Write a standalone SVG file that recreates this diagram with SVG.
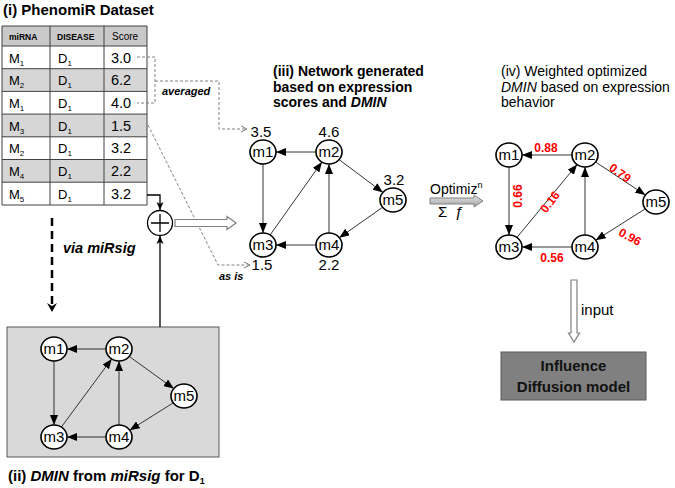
<svg xmlns="http://www.w3.org/2000/svg" width="675" height="488" viewBox="0 0 675 488">
<defs>
<style>
text{font-family:"Liberation Sans",Arial,sans-serif;fill:#000}
.t{font-size:14px;font-weight:bold}
.tr{font-size:14px}
.hd{font-size:8.5px;font-weight:bold}
.ct{font-size:13px}
.sc{font-size:14.5px}
.sub{font-size:8px}
.grid{stroke:#404040;stroke-width:1;fill:none}
.node ellipse{fill:#fff;stroke:#000;stroke-width:1.6}
.node text{font-size:15px;text-anchor:middle}
.edge{stroke:#333;stroke-width:1;fill:none;marker-end:url(#ah)}
.val{font-size:11.5px;text-anchor:middle}
.w{font-size:12px;font-weight:bold;fill:#f00;text-anchor:middle}
.dash{stroke:#808080;stroke-width:1;stroke-dasharray:3 2;fill:none;marker-end:url(#ahg)}
.hollow{fill:#fff;stroke:#808080;stroke-width:1.2}
.lbl{font-size:11px;font-style:italic;font-weight:bold}
</style>
<marker id="ah" markerUnits="userSpaceOnUse" markerWidth="10" markerHeight="8" refX="10" refY="4" orient="auto"><path d="M0,0 L10,4 L0,8 z" fill="#000"/></marker>
<marker id="ahs" markerUnits="userSpaceOnUse" markerWidth="8" markerHeight="8" refX="8" refY="4" orient="auto"><path d="M0,0.5 L8,4 L0,7.5 L2,4 z" fill="#000"/></marker>
<marker id="ahg" markerUnits="userSpaceOnUse" markerWidth="8" markerHeight="8" refX="7" refY="4" orient="auto"><path d="M1,1 L7,4 L1,7" fill="none" stroke="#808080" stroke-width="1"/></marker>
<linearGradient id="gopt" x1="0" y1="0" x2="0" y2="1"><stop offset="0" stop-color="#e8e8e8"/><stop offset="1" stop-color="#a0a0a0"/></linearGradient>
</defs>
<rect width="675" height="488" fill="#fff"/>

<!-- (i) table -->
<g id="table">
<text x="3" y="15" style="font-size:15px;font-weight:bold">(i) PhenomiR Dataset</text>
<rect x="2" y="26" width="145" height="20" fill="#c9c9c9"/>
<rect x="2" y="68.7" width="145" height="22.7" fill="#d6d6d6"/>
<rect x="2" y="114.1" width="145" height="22.7" fill="#d6d6d6"/>
<rect x="2" y="159.5" width="145" height="22.7" fill="#d6d6d6"/>
<path class="grid" d="M2,26 H147 V205 H2 Z M2,46 H147 M2,68.7 H147 M2,91.4 H147 M2,114.1 H147 M2,136.8 H147 M2,159.5 H147 M2,182.2 H147 M50,26 V205 M104,26 V205"/>
<text class="hd" x="9" y="40">miRNA</text>
<text class="hd" x="57" y="40">DISEASE</text>
<text x="112" y="40" style="font-size:10px">Score</text>
<g class="ct">
<text x="9" y="62.5">M<tspan class="sub" dy="3">1</tspan></text>
<text x="58" y="62.5">D<tspan class="sub" dy="3">1</tspan></text>
<text x="9" y="85.2">M<tspan class="sub" dy="3">2</tspan></text>
<text x="58" y="85.2">D<tspan class="sub" dy="3">1</tspan></text>
<text x="9" y="107.9">M<tspan class="sub" dy="3">1</tspan></text>
<text x="58" y="107.9">D<tspan class="sub" dy="3">1</tspan></text>
<text x="9" y="130.6">M<tspan class="sub" dy="3">3</tspan></text>
<text x="58" y="130.6">D<tspan class="sub" dy="3">1</tspan></text>
<text x="9" y="153.3">M<tspan class="sub" dy="3">2</tspan></text>
<text x="58" y="153.3">D<tspan class="sub" dy="3">1</tspan></text>
<text x="9" y="176">M<tspan class="sub" dy="3">4</tspan></text>
<text x="58" y="176">D<tspan class="sub" dy="3">1</tspan></text>
<text x="9" y="198.7">M<tspan class="sub" dy="3">5</tspan></text>
<text x="58" y="198.7">D<tspan class="sub" dy="3">1</tspan></text>
</g>
<g class="sc">
<text x="111" y="62.5">3.0</text>
<text x="111" y="85.2">6.2</text>
<text x="111" y="107.9">4.0</text>
<text x="111" y="130.6">1.5</text>
<text x="111" y="153.3">3.2</text>
<text x="111" y="176">2.2</text>
<text x="111" y="198.7">3.2</text>
</g>
</g>

<!-- titles -->
<text class="t" x="273" y="76">(iii) Network generated</text>
<text class="t" x="273" y="92">based on expression</text>
<text class="t" x="273" y="107">scores and <tspan font-style="italic">DMIN</tspan></text>
<text class="tr" x="501" y="76">(iv) Weighted optimized</text>
<text class="tr" x="501" y="92"><tspan font-style="italic">DMIN</tspan> based on expression</text>
<text class="tr" x="501" y="107">behavior</text>
<text x="8" y="481" style="font-size:15px;font-weight:bold">(ii) <tspan font-style="italic">DMIN</tspan> from <tspan font-style="italic">miRsig</tspan>  for D<tspan style="font-size:9px" dy="3">1</tspan></text>

<!-- (ii) box -->
<g id="dmin-box">
<rect x="7" y="327" width="212" height="130" fill="#d9d9d9" stroke="#595959" stroke-width="1"/>
</g>

<!-- connectors -->
<g id="connectors">
<path class="dash" style="marker-end:none" d="M137,57 H155 V103 H137"/>
<path class="dash" d="M155,81 H219 V129 H247"/>
<text class="lbl" x="162" y="95">averaged</text>
<path class="dash" d="M148,125 L218,265 H250"/>
<text class="lbl" x="219" y="280">as is</text>
<path d="M147,195 H160 V210" fill="none" stroke="#000" stroke-width="1.3" marker-end="url(#ahs)"/>
<path d="M160,327 V236" fill="none" stroke="#000" stroke-width="1.3" marker-end="url(#ahs)"/>
<line x1="52" y1="218" x2="52" y2="306" stroke="#000" stroke-width="2.5" stroke-dasharray="8 5"/>
<path d="M47,303 L52,312 L57,303 L52,306 z" fill="#000"/>
<text x="63" y="253" style="font-size:14.5px;font-style:italic;font-weight:bold">via  miRsig</text>
<polygon class="hollow" points="175,219.5 227,219.5 227,216.5 236,223 227,229.5 227,226.5 175,226.5"/>
<polygon points="430,198 474,198 474,195 483,201 474,207 474,204 430,204" fill="url(#gopt)" stroke="#808080" stroke-width="1"/>
<text x="430" y="194" style="font-size:14px">Optimiz<tspan style="font-size:9px" dy="-6">n</tspan></text>
<text x="438" y="217" style="font-size:15px">Σ <tspan dx="3" font-style="italic">ƒ</tspan></text>
<polygon class="hollow" points="571,280 577,280 577,333 579.5,333 574,342 568.5,333 571,333"/>
<text x="581" y="315" style="font-size:15px">input</text>

<!-- network ii edges -->
<line class="edge" x1="106" y1="349" x2="67" y2="349"/>
<line class="edge" x1="54" y1="361" x2="54" y2="425"/>
<line class="edge" x1="61.3" y1="427.1" x2="111.7" y2="358.9"/>
<line class="edge" x1="119" y1="425" x2="119" y2="361"/>
<line class="edge" x1="106" y1="437" x2="67" y2="437"/>
<line class="edge" x1="129.2" y1="356.4" x2="173.8" y2="388.6"/>
<line class="edge" x1="173.3" y1="402.8" x2="129.7" y2="430.2"/>

<!-- network iii edges -->
<line class="edge" x1="316" y1="152" x2="276" y2="152"/>
<line class="edge" x1="263" y1="164" x2="263" y2="233"/>
<line class="edge" x1="270.1" y1="235" x2="321.9" y2="162"/>
<line class="edge" x1="329" y1="233" x2="329" y2="164"/>
<line class="edge" x1="316" y1="245" x2="276" y2="245"/>
<line class="edge" x1="339.1" y1="159.6" x2="382.9" y2="192.4"/>
<line class="edge" x1="382.7" y1="207.3" x2="339.3" y2="237.7"/>

<!-- network iv edges -->
<line class="edge" x1="572" y1="155" x2="522" y2="155"/>
<line class="edge" x1="509" y1="167" x2="509" y2="235"/>
<line class="edge" x1="516.9" y1="237.5" x2="577.1" y2="164.5"/>
<line class="edge" x1="585" y1="235" x2="585" y2="167"/>
<line class="edge" x1="572" y1="247" x2="522" y2="247"/>
<line class="edge" x1="595.6" y1="162" x2="645.4" y2="195"/>
<line class="edge" x1="645.3" y1="208.8" x2="595.7" y2="240.2"/>

<text class="w" x="546" y="152">0.88</text>
<text class="w" transform="translate(620,173) rotate(35)" y="4">0.79</text>
<text class="w" transform="translate(518,196) rotate(-90)" y="4">0.66</text>
<text class="w" transform="translate(550,202) rotate(-52)" y="4">0.16</text>
<text class="w" transform="translate(630,237) rotate(28)" y="4">0.96</text>
<text class="w" x="552" y="262">0.56</text>
</g>

<!-- plus -->
<g id="sum">
<circle cx="160" cy="223" r="12.5" fill="#fff" stroke="#000" stroke-width="1.3"/>
<path d="M151,223 H169 M160,214 V232" stroke="#000" stroke-width="1.3"/>
</g>

<g id="ii-m1" class="node"><ellipse cx="54" cy="349" rx="13" ry="12"/><text x="54" y="354">m1</text></g>
<g id="ii-m2" class="node"><ellipse cx="119" cy="349" rx="13" ry="12"/><text x="119" y="354">m2</text></g>
<g id="ii-m3" class="node"><ellipse cx="54" cy="437" rx="13" ry="12"/><text x="54" y="442">m3</text></g>
<g id="ii-m4" class="node"><ellipse cx="119" cy="437" rx="13" ry="12"/><text x="119" y="442">m4</text></g>
<g id="ii-m5" class="node"><ellipse cx="184" cy="396" rx="13" ry="12"/><text x="184" y="401">m5</text></g>

<!-- (iii) nodes -->
<g id="iii-m1" class="node"><ellipse cx="263" cy="152" rx="13" ry="12"/><text x="263" y="157">m1</text><text class="val" x="261" y="137">3.5</text></g>
<g id="iii-m2" class="node"><ellipse cx="329" cy="152" rx="13" ry="12"/><text x="329" y="157">m2</text><text class="val" x="329" y="137">4.6</text></g>
<g id="iii-m3" class="node"><ellipse cx="263" cy="245" rx="13" ry="12"/><text x="263" y="250">m3</text><text class="val" x="262" y="270">1.5</text></g>
<g id="iii-m4" class="node"><ellipse cx="329" cy="245" rx="13" ry="12"/><text x="329" y="250">m4</text><text class="val" x="329" y="270">2.2</text></g>
<g id="iii-m5" class="node"><ellipse cx="393" cy="200" rx="13" ry="12"/><text x="393" y="205">m5</text><text class="val" x="394" y="185">3.2</text></g>

<!-- (iv) nodes -->
<g id="iv-m1" class="node"><ellipse cx="509" cy="155" rx="13" ry="12"/><text x="509" y="160">m1</text></g>
<g id="iv-m2" class="node"><ellipse cx="585" cy="155" rx="13" ry="12"/><text x="585" y="160">m2</text></g>
<g id="iv-m3" class="node"><ellipse cx="509" cy="247" rx="13" ry="12"/><text x="509" y="252">m3</text></g>
<g id="iv-m4" class="node"><ellipse cx="585" cy="247" rx="13" ry="12"/><text x="585" y="252">m4</text></g>
<g id="iv-m5" class="node"><ellipse cx="656" cy="202" rx="13" ry="12"/><text x="656" y="207">m5</text></g>

<!-- influence -->
<g id="influence">
<rect x="501" y="352" width="145" height="48" fill="#808080" stroke="#5a5a5a" stroke-width="1"/>
<text x="573.5" y="371" style="font-size:15px;font-weight:bold;text-anchor:middle;fill:#111">Influence</text>
<text x="573.5" y="392" style="font-size:15px;font-weight:bold;text-anchor:middle;fill:#111">Diffusion model</text>
</g>
</svg>
